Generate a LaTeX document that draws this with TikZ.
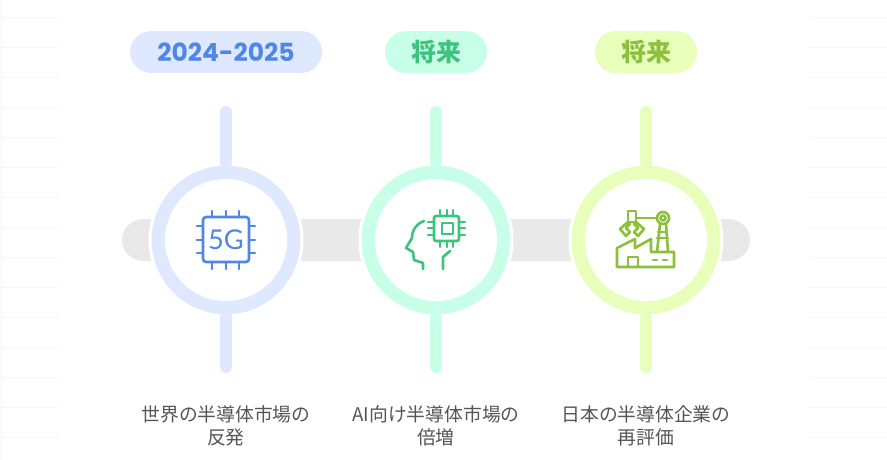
\documentclass[tikz,border=0pt]{standalone}
\usepackage{fontspec}
\setmainfont{Noto Sans CJK JP}
\newfontfamily\cjk{Noto Sans CJK JP}
\newfontfamily\chipfont{Lato}
\newfontfamily\yearfont{Poppins}
\usepackage{xcolor}
\definecolor{blueSoft}{HTML}{DEE9FF}
\definecolor{blueDeep}{HTML}{4F86E8}
\definecolor{mintSoft}{HTML}{C8FFE8}
\definecolor{mintDeep}{HTML}{3CC47C}
\definecolor{limeSoft}{HTML}{E8FFBC}
\definecolor{limeDeep}{HTML}{8CBF3A}
\definecolor{barGray}{HTML}{E9E9E9}
\definecolor{labelGray}{HTML}{555555}
\definecolor{gridGray}{HTML}{F6F6F6}
\definecolor{gridPink}{HTML}{FCEEF2}
\tikzset{
	pill/.style={rounded corners=21*0.02cm, minimum height=42*0.02cm, inner sep=0pt, font=\fontsize{14.2}{16}\bfseries},
	ring/.style={circle, draw=white, line width=0.06cm, minimum size=152*0.02cm, inner sep=0pt},
	stem/.style={line width=12*0.02cm, line cap=round},
	caption/.style={align=center, text=labelGray, font=\fontsize{10.7}{13.4}\selectfont},
	icon/.style={line width=2.6*0.02cm, line cap=round, line join=round}
}
\begin{document}
\begin{tikzpicture}[x=0.02cm, y=-0.02cm]
	\useasboundingbox (0,0) rectangle (887,460);

	% faint sheet lines at the two sides
	\foreach \y in {17,47,...,437} {
		\draw[gridGray] (0,\y) -- (60,\y);
		\draw[gridGray] (810,\y) -- (887,\y);
	}
	\draw[gridPink] (1,0) -- (1,460);

	% the bar behind
	\node[fill=barGray, rounded corners=21*0.02cm, minimum width=628*0.02cm, minimum height=42*0.02cm, inner sep=0pt] (bar) at (436,240) {};

	% stems, then rings on top
	\foreach \name/\px/\col in {a/226/blue, b/436/mint, c/646/lime} {
		\coordinate (top\name) at (\px,112);
		\coordinate (bot\name) at (\px,367);
		\node[ring, fill=\col Soft] (ring\name) at (\px,240) {};
		\draw[stem, \col Soft] (top\name) -- (ring\name.north);
		\draw[stem, \col Soft] (ring\name.south) -- (bot\name);
		\node[circle, fill=white, minimum size=122*0.02cm, inner sep=0pt] (core\name) at (\px,240) {};
	}

	\node[pill, fill=blueSoft, text=blueDeep, minimum width=192*0.02cm] (datea) at (226,52) {\yearfont\bfseries 2024-2025};
	\node[pill, fill=mintSoft, text=mintDeep, minimum width=102*0.02cm] (dateb) at (436,52) {将来};
	\node[pill, fill=limeSoft, text=limeDeep, minimum width=102*0.02cm] (datec) at (646,52) {将来};

	% 5G chip
	\begin{scope}[icon, blueDeep]
		\draw[rounded corners=3*0.02cm] (203,217) rectangle (249,262);
		\foreach \p in {212,226,239} {
			\draw (\p,211) -- (\p,217);
			\draw (\p,262) -- (\p,269);
		}
		\foreach \p in {226,240,253} {
			\draw (197,\p) -- (203,\p);
			\draw (249,\p) -- (255,\p);
		}
		\node[inner sep=0pt, font=\chipfont\fontsize{15.5}{15.5}\selectfont] (chipa) at (226,240) {5G};
	\end{scope}

	% head with chip
	\begin{scope}[icon, mintDeep]
		\draw[rounded corners=2*0.02cm] (434,216) rectangle (459,241);
		\draw (442,223) rectangle (453,234);
		\foreach \p in {440,447,453} {
			\draw (\p,210) -- (\p,216);
			\draw (\p,241) -- (\p,247);
		}
		\foreach \p in {222,228,235} {
			\draw (428,\p) -- (434,\p);
			\draw (459,\p) -- (465,\p);
		}
		\draw (424,221) .. controls (416,224) and (412,230) .. (412,238) -- (406,248) -- (413,252) -- (414,260) -- (423,263) -- (423,269);
		\draw (443,269) -- (443,257) -- (450,251);
	\end{scope}

	% factory with robot arm
	\begin{scope}[icon, limeDeep]
		\draw (617,267) -- (617,248) -- (635,239) -- (635,248) -- (651,239) -- (651,252) -- (674,252) -- (674,267) -- cycle;
		\draw (628,267) -- (628,257) -- (638,257) -- (638,267);
		\draw (653,260) -- (657,260);
		\draw (663,260) -- (667,260);
		\draw (657,252) -- (660,224) (668,252) -- (666,224);
		\draw (658,232) -- (667,232) (657,238) -- (668,238);
		\draw (663,218) circle (6);
		\draw (663,218) circle (2.5);
		\draw (657,218) -- (637,218);
		\draw (628,211) rectangle (636,222);
		\draw (628,222) -- (620,229) -- (626,236) -- (630,232) -- (626,228) -- (630,224);
		\draw (636,222) -- (644,229) -- (638,236) -- (634,232) -- (638,228) -- (634,224);
	\end{scope}

	\node[caption] (capa) at (226,426) {世界の半導体市場の\\反発};
	\node[caption] (capb) at (436,426) {AI向け半導体市場の\\倍増};
	\node[caption] (capc) at (646,426) {日本の半導体企業の\\再評価};
\end{tikzpicture}
\end{document}
